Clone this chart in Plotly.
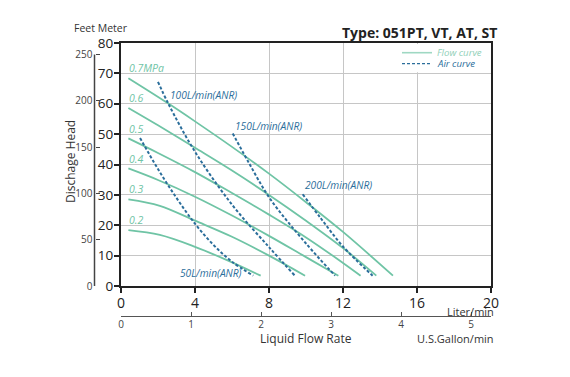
import plotly.graph_objects as go

# ---------------- data ----------------
flow_labels = ["0.7MPa", "0.6", "0.5", "0.4", "0.3", "0.2"]
flow_x = [
    [0.4, 2.5, 4.0, 6.0, 8.0, 10.0, 12.0, 14.7],
    [0.4, 2.0, 4.0, 6.0, 8.0, 10.0, 12.0, 13.8],
    [0.4, 2.0, 4.0, 6.0, 8.0, 10.0, 12.0, 12.95],
    [0.4, 2.0, 4.0, 6.0, 8.0, 10.0, 11.75],
    [0.4, 2.1, 4.0, 6.0, 8.0, 9.95],
    [0.4, 2.1, 4.0, 5.7, 7.55],
]
flow_y = [
    [68.4, 60.3, 54.2, 45.8, 37.0, 27.6, 17.8, 3.4],
    [58.6, 52.9, 45.5, 38.0, 30.0, 21.5, 12.5, 3.4],
    [48.6, 43.8, 37.5, 30.6, 23.5, 16.0, 7.6, 3.4],
    [38.7, 34.9, 29.4, 23.2, 16.5, 9.5, 3.4],
    [28.5, 26.4, 21.5, 16.2, 10.0, 3.4],
    [18.4, 16.8, 12.9, 8.6, 3.4],
]
flow_label_pos = [(0.3, 71.7), (0.3, 61.8), (0.3, 51.8), (0.3, 41.9), (0.3, 31.8), (0.3, 21.7)]

air_labels = ["50L/min(ANR)", "100L/min(ANR)", "150L/min(ANR)", "200L/min(ANR)"]
air_x = [
    [1.03, 2.0, 3.0, 4.0, 5.0, 6.0, 7.15],
    [2.0, 2.56, 4.0, 6.0, 8.0, 9.4],
    [6.04, 6.88, 8.05, 10.0, 11.57],
    [9.82, 10.8, 12.0, 13.6],
]
air_y = [
    [48.7, 38.5, 29.0, 20.5, 13.5, 8.0, 3.4],
    [67.2, 60.0, 44.2, 26.8, 12.8, 3.4],
    [50.2, 40.9, 28.8, 14.0, 3.4],
    [30.2, 22.3, 13.0, 3.4],
]
air_label_pos = [(3.1, 4.4), (2.54, 62.9), (6.04, 52.6), (9.82, 33.2)]

x_ticks_lpm = [0, 4, 8, 12, 16, 20]
y_ticks_m = [0, 10, 20, 30, 40, 50, 60, 70, 80]
y_ticks_ft = [0, 50, 100, 150, 200, 250]
x_ticks_gal = [0, 1, 2, 3, 4, 5]

M_TO_FT = 3.28084
L_TO_GAL = 1 / 3.78541

FLOW_C = "#6fc4a5"
AIR_C = "#2b6e9b"
FONT = "Open Sans"

# ---------------- figure ----------------
fig = go.Figure()

for xs, ys in zip(flow_x, flow_y):
    fig.add_trace(go.Scatter(x=xs, y=ys, mode="lines", line=dict(color=FLOW_C, width=1.8, shape="spline"),
                             showlegend=False, hoverinfo="skip"))
for xs, ys in zip(air_x, air_y):
    fig.add_trace(go.Scatter(x=xs, y=ys, mode="lines",
                             line=dict(color=AIR_C, width=2, dash="3px,2px", shape="spline"),
                             showlegend=False, hoverinfo="skip"))
# invisible trace to activate secondary axes
fig.add_trace(go.Scatter(x=[None], y=[None], xaxis="x2", yaxis="y2", showlegend=False, hoverinfo="skip"))

for lab, (lx, ly) in zip(flow_labels, flow_label_pos):
    fig.add_annotation(x=lx, y=ly, text="<i>" + lab + "</i>", showarrow=False, xanchor="left", yanchor="middle",
                       font=dict(family=FONT, size=10.5, color=FLOW_C))
for lab, (lx, ly) in zip(air_labels, air_label_pos):
    fig.add_annotation(x=lx, y=ly, text="<i>" + lab + "</i>", showarrow=False, xanchor="left", yanchor="middle",
                       font=dict(family=FONT, size=10.2, color=AIR_C))

W, H = 570, 377
ML, MR, MT, MB = 50, 79, 43, 40
pw, ph = W - ML - MR, H - MT - MB


def px(x):
    return (x - ML) / pw


def py(y):
    return (H - MB - y) / ph


x_dom0 = px(121)
y_dom0 = py(286)
ft_max = 80 * M_TO_FT


def ft_paper(v):
    return y_dom0 + (1 - y_dom0) * v / ft_max


# white box under legend hiding x=16 gridline above 70
fig.add_shape(type="rect", xref="x", yref="y", x0=12.15, x1=19.85, y0=70.4, y1=79.7,
              fillcolor="white", line=dict(width=0), layer="between")

# legend (manual)
fig.add_shape(type="line", xref="paper", yref="paper", x0=px(402), x1=px(432), y0=py(52.7), y1=py(52.7),
              line=dict(color="#9fd8c3", width=1.6))
fig.add_shape(type="line", xref="paper", yref="paper", x0=px(402), x1=px(432), y0=py(63.7), y1=py(63.7),
              line=dict(color=AIR_C, width=1.2, dash="3px,2px"))
fig.add_annotation(xref="paper", yref="paper", x=px(435), y=py(52.5), text="<i>Flow curve</i>", showarrow=False,
                   xanchor="left", yanchor="middle", font=dict(family=FONT, size=9.6, color="#8fd0b8"))
fig.add_annotation(xref="paper", yref="paper", x=px(435), y=py(64), text="<i>Air curve</i>", showarrow=False,
                   xanchor="left", yanchor="middle", font=dict(family=FONT, size=9.6, color=AIR_C))

# feet axis line (0..250 ft)
fig.add_shape(type="line", xref="paper", yref="paper", x0=px(94.5), x1=px(94.5),
              y0=ft_paper(y_ticks_ft[0]), y1=ft_paper(y_ticks_ft[-1]),
              line=dict(color="#444", width=1.5))

# texts
fig.add_annotation(xref="paper", yref="paper", x=px(499), y=py(32), text="<b>Type: 051PT, VT, AT, ST</b>",
                   showarrow=False, xanchor="right", yanchor="middle", font=dict(family=FONT, size=14, color="#222"))
fig.add_annotation(xref="paper", yref="paper", x=px(72), y=py(28.5), text="Feet Meter", showarrow=False,
                   xanchor="left", yanchor="middle", font=dict(family=FONT, size=10.5, color="#333"))
fig.add_annotation(xref="paper", yref="paper", x=px(70), y=py(162), text="Dischage Head", showarrow=False,
                   textangle=-90, xanchor="center", yanchor="middle", font=dict(family=FONT, size=12, color="#333"))
fig.add_annotation(xref="paper", yref="paper", x=px(306), y=py(338.5), text="Liquid Flow Rate", showarrow=False,
                   xanchor="center", yanchor="middle", font=dict(family=FONT, size=12, color="#333"))
fig.add_annotation(xref="paper", yref="paper", x=px(496), y=py(311), text="Liter/min", showarrow=False,
                   xanchor="right", yanchor="middle", font=dict(family=FONT, size=11, color="#333"))
fig.add_annotation(xref="paper", yref="paper", x=px(496), y=py(338.5), text="U.S.Gallon/min", showarrow=False,
                   xanchor="right", yanchor="middle", font=dict(family=FONT, size=11, color="#333"))

fig.update_layout(
    width=W, height=H, margin=dict(l=ML, r=MR, t=MT, b=MB),
    paper_bgcolor="white", plot_bgcolor="white",
    font=dict(family=FONT, color="#222"),
    xaxis=dict(domain=[x_dom0, 1], range=[0, 20], tickvals=x_ticks_lpm, ticks="outside", ticklen=5,
               tickcolor="#222", tickwidth=1.5, showline=True, linecolor="#222", linewidth=2, mirror=True,
               showgrid=True, gridcolor="#c6c6c6", gridwidth=1.3, zeroline=False, ticklabelstandoff=-2,
               tickfont=dict(size=14, color="#222"), fixedrange=True),
    yaxis=dict(domain=[y_dom0, 1], range=[0, 80], tickvals=y_ticks_m, ticks="outside", ticklen=5,
               tickcolor="#222", tickwidth=1.5, showline=True, linecolor="#222", linewidth=2, mirror=True,
               showgrid=True, gridcolor="#c6c6c6", gridwidth=1.3, zeroline=False, ticklabelstandoff=-2,
               tickfont=dict(size=13.5, color="#222"), fixedrange=True),
    yaxis2=dict(overlaying="y", anchor="free", position=px(94.5), side="left",
                range=[0, ft_max], tickvals=y_ticks_ft, ticks="inside", ticklen=4,
                tickcolor="#444", tickwidth=1.2, showline=False, showgrid=False, zeroline=False,
                ticklabelstandoff=2,
                tickfont=dict(size=10, color="#444"), fixedrange=True),
    xaxis2=dict(overlaying="x", anchor="free", position=py(316), side="bottom",
                range=[0, 20 * L_TO_GAL], tickvals=x_ticks_gal, ticks="inside", ticklen=4,
                tickcolor="#555", showline=True, linecolor="#555", linewidth=1.2, showgrid=False,
                zeroline=False, ticklabelstandoff=-1, tickfont=dict(size=10, color="#444"), fixedrange=True),
)

fig.write_html("out.html", config={"displayModeBar": False},
               post_script="document.body.style.margin='0';document.body.style.padding='0';")
